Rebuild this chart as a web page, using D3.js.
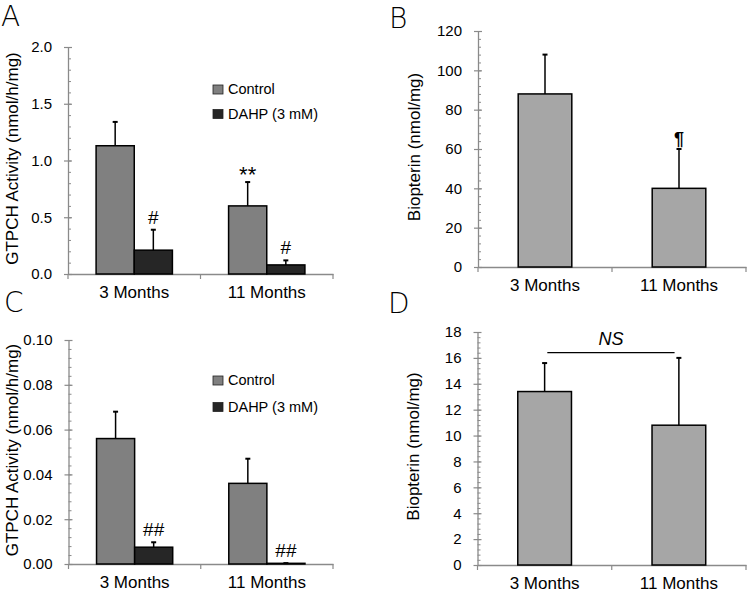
<!DOCTYPE html>
<html><head><meta charset="utf-8">
<script src="https://cdn.jsdelivr.net/npm/d3@7"></script>
<style>body{margin:0;background:#fff}svg{display:block;font-family:"Liberation Sans",Arial,sans-serif}</style>
</head><body><svg id="c" width="750" height="596"></svg>
<script>
const categories = ["3 Months", "11 Months"];
const seriesNames = ["Control", "DAHP (3 mM)"];
// Panel A: GTPCH activity (nmol/h/mg)
const aControl = [1.13, 0.60], aControlErr = [0.21, 0.21];
const aDahp = [0.21, 0.08], aDahpErr = [0.18, 0.04];
const aTicks = [0.0, 0.5, 1.0, 1.5, 2.0];
const aNotes = [["", "**"], ["#", "#"]];
// Panel B: Biopterin (nmol/mg)
const bValues = [88, 40], bErr = [20, 20];
const bTicks = [0, 20, 40, 60, 80, 100, 120];
const bNotes = ["", "¶"];
// Panel C: GTPCH activity (nmol/h/mg)
const cControl = [0.056, 0.036], cControlErr = [0.012, 0.011];
const cDahp = [0.0075, 0.0003], cDahpErr = [0.0022, 0.0001];
const cTicks = [0.00, 0.02, 0.04, 0.06, 0.08, 0.10];
const cNotes = [["", ""], ["##", "##"]];
// Panel D: Biopterin (nmol/mg)
const dValues = [13.4, 10.8], dErr = [2.2, 5.2];
const dTicks = [0, 2, 4, 6, 8, 10, 12, 14, 16, 18];
const dBracket = "NS";

const svg = d3.select("#c");
const axisCol = "#8a8a8a";
const colControl = "#808080", colDahp = "#262626", colSingle = "#a6a6a6";

function panel(o) {
  const g = svg.append("g");
  const y = d3.scaleLinear().domain([o.ticks[0], o.ticks[o.ticks.length - 1]]).range([o.bottom, o.top]);
  const x = d3.scaleBand().domain(categories).range([o.left, o.right]).padding(0);
  // minor ticks
  const step = (o.ticks[1] - o.ticks[0]) / 5;
  const minor = d3.range(0, (o.ticks.length - 1) * 5 + 1).map(i => o.ticks[0] + i * step);
  const mg = g.append("g").attr("transform", `translate(${o.left},0)`)
    .call(d3.axisRight(y).tickValues(minor).tickSize(3).tickFormat(""));
  mg.select(".domain").remove();
  mg.selectAll("line").attr("stroke", axisCol);
  const ag = g.append("g").attr("transform", `translate(${o.left},0)`)
    .call(d3.axisLeft(y).tickValues(o.ticks).tickSize(4).tickPadding(12).tickSizeOuter(0).tickFormat(o.fmt));
  ag.select(".domain").attr("stroke", axisCol).attr("stroke-width", 1.3);
  ag.selectAll(".tick line").attr("stroke", axisCol).attr("x1", 4).attr("stroke-width", 1.2);
  ag.selectAll("text").attr("font-size", 15).attr("fill", "#000").attr("font-family", "Liberation Sans, Arial, sans-serif");
  // x axis
  const xg = g.append("g").attr("transform", `translate(0,${o.bottom})`)
    .call(d3.axisBottom(x).tickSize(0).tickSizeOuter(0));
  xg.select(".domain").attr("stroke", axisCol).attr("stroke-width", 1.3);
  xg.selectAll("text").attr("font-size", 17).attr("fill", "#000").attr("y", 12).attr("font-family", "Liberation Sans, Arial, sans-serif");
  const bounds = categories.map(c => x(c)).concat([x.range()[1]]);
  g.selectAll(".xb").data(bounds).join("line")
    .attr("x1", d => d).attr("x2", d => d).attr("y1", o.bottom).attr("y2", o.bottom + 5)
    .attr("stroke", axisCol).attr("stroke-width", 1.2);
  // y label
  g.append("text").attr("transform", `translate(${o.left + o.labelDx},${(o.top + o.bottom) / 2 - 2}) rotate(-90)`)
    .attr("text-anchor", "middle").attr("dy", "0.35em").attr("font-size", 17).text(o.ylabel);
  // panel letter
  g.append("text").attr("x", o.letterX).attr("y", o.letterY).attr("font-size", 28)
    .attr("font-family", "DejaVu Sans, sans-serif").attr("font-weight", 300).text(o.letter);
  return {g, x, y};
}

function errBars(g, pts) {
  g.selectAll(null).data(pts).join("line")
    .attr("x1", d => d.cx).attr("x2", d => d.cx).attr("y1", d => d.y0).attr("y2", d => d.y1)
    .attr("stroke", "#000").attr("stroke-width", 1.5);
  g.selectAll(null).data(pts).join("line")
    .attr("x1", d => d.cx - 2.5).attr("x2", d => d.cx + 2.5).attr("y1", d => d.y1).attr("y2", d => d.y1)
    .attr("stroke", "#000").attr("stroke-width", 2);
}

function groupedPanel(o, control, controlErr, dahp, dahpErr, notes, noteSize) {
  const {g, x, y} = panel(o);
  const bw = x.bandwidth() * 0.288;
  const series = [
    {vals: control, errs: controlErr, col: colControl, k: 0},
    {vals: dahp, errs: dahpErr, col: colDahp, k: 1}
  ];
  series.forEach(s => {
    const data = categories.map((c, i) => ({c, v: s.vals[i], e: s.errs[i], i}));
    const xs = d => x(d.c) + (x.bandwidth() - 2 * bw) / 2 + s.k * bw;
    g.selectAll(null).data(data).join("rect")
      .attr("x", xs).attr("width", bw).attr("y", d => y(d.v)).attr("height", d => y(0) - y(d.v))
      .attr("fill", s.col).attr("stroke", "#000").attr("stroke-width", 1.5);
    errBars(g, data.map(d => ({cx: xs(d) + bw / 2, y0: y(d.v), y1: y(d.v + d.e)})));
    g.selectAll(null).data(data.filter(d => notes[s.k][d.i])).join("text")
      .attr("x", d => xs(d) + bw / 2).attr("y", d => y(d.v + d.e) - (notes[s.k][d.i] === "**" ? 0 : 6))
      .attr("text-anchor", "middle").attr("font-size", d => notes[s.k][d.i] === "**" ? 22 : noteSize)
      .text(d => notes[s.k][d.i]);
  });
  // legend
  const lg = g.append("g");
  seriesNames.forEach((n, k) => {
    lg.append("rect").attr("x", o.legX).attr("y", o.legY + k * o.legGap - 9).attr("width", 10).attr("height", 9)
      .attr("fill", k === 0 ? colControl : colDahp).attr("stroke", "#222").attr("stroke-width", 0.8);
    lg.append("text").attr("x", o.legX + 15).attr("y", o.legY + k * o.legGap).attr("font-size", 14.5).text(n);
  });
}

function singlePanel(o, vals, errs) {
  const {g, x, y} = panel(o);
  const bw = x.bandwidth() * 0.4;
  const data = categories.map((c, i) => ({c, v: vals[i], e: errs[i], i}));
  const xs = d => x(d.c) + (x.bandwidth() - bw) / 2;
  g.selectAll(null).data(data).join("rect")
    .attr("x", xs).attr("width", bw).attr("y", d => y(d.v)).attr("height", d => y(0) - y(d.v))
    .attr("fill", colSingle).attr("stroke", "#000").attr("stroke-width", 1.5);
  errBars(g, data.map(d => ({cx: xs(d) + bw / 2, y0: y(d.v), y1: y(d.v + d.e)})));
  return {g, x, y, bw, xs, data};
}

const fmt1 = d3.format(".1f"), fmt2 = d3.format(".2f"), fmt0 = d3.format("d");

groupedPanel({left: 68, right: 333, top: 47, bottom: 274, ticks: aTicks, fmt: fmt1,
  ylabel: "GTPCH Activity (nmol/h/mg)", labelDx: -56, letter: "A", letterX: 1, letterY: 26,
  legX: 213, legY: 94, legGap: 24.5}, aControl, aControlErr, aDahp, aDahpErr, aNotes, 19);

const pb = singlePanel({left: 478, right: 746, top: 31, bottom: 267, ticks: bTicks, fmt: fmt0,
  ylabel: "Biopterin (nmol/mg)", labelDx: -64, letter: "B", letterX: 389, letterY: 28}, bValues, bErr);
pb.g.selectAll(null).data(pb.data.filter(d => bNotes[d.i])).join("text")
  .attr("x", d => pb.xs(d) + pb.bw / 2).attr("y", d => pb.y(d.v + d.e) - 4)
  .attr("text-anchor", "middle").attr("font-size", 18).attr("font-weight", "bold").text(d => bNotes[d.i]);

groupedPanel({left: 68.5, right: 333, top: 340, bottom: 564, ticks: cTicks, fmt: fmt2,
  ylabel: "GTPCH Activity (nmol/h/mg)", labelDx: -56, letter: "C", letterX: 4, letterY: 312,
  legX: 213, legY: 385, legGap: 26.5}, cControl, cControlErr, cDahp, cDahpErr, cNotes, 19);

const pd = singlePanel({left: 477.5, right: 746, top: 332, bottom: 565, ticks: dTicks, fmt: fmt0,
  ylabel: "Biopterin (nmol/mg)", labelDx: -64, letter: "D", letterX: 388, letterY: 313}, dValues, dErr);
{
  const x1 = pd.xs(pd.data[0]) + pd.bw * 0.55, x2 = pd.xs(pd.data[1]) + pd.bw * 0.42;
  const yb = pd.y(16.4);
  pd.g.append("line").attr("x1", x1).attr("x2", x2).attr("y1", yb).attr("y2", yb)
    .attr("stroke", "#000").attr("stroke-width", 1.3);
  pd.g.append("text").attr("x", (x1 + x2) / 2).attr("y", yb - 8).attr("text-anchor", "middle")
    .attr("font-size", 18).attr("font-style", "italic").text(dBracket);
}
</script></body></html>
